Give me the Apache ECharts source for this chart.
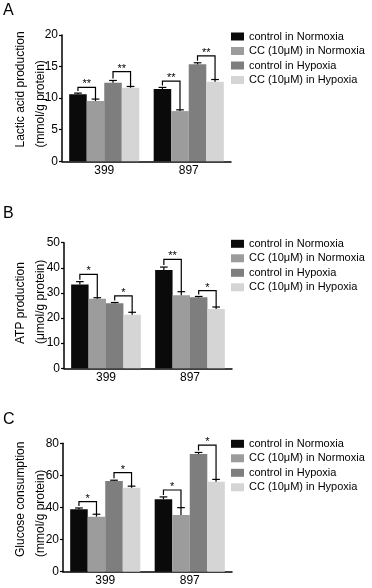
<!DOCTYPE html>
<html>
<head>
<meta charset="utf-8">
<script src="https://cdn.jsdelivr.net/npm/echarts@6/dist/echarts.min.js"></script>
<style>
html, body { margin: 0; padding: 0; background: #fff; }
#chart { width: 372px; height: 588px; }
</style>
</head>
<body>
<div id="chart"></div>
<script>
var cellLines = ['399', '897'];
var groupNames = ['control in Normoxia', 'CC (10μM) in Normoxia', 'control in Hypoxia', 'CC (10μM) in Hypoxia'];
var colors = ['#0a0a0a', '#9c9c9c', '#7e7e7e', '#d5d5d5'];

// mean and error per group, [399, 897]
var lacticMean = [[10.6, 11.45], [9.55, 7.95], [12.45, 15.35], [11.65, 12.6]];
var lacticErr = [[0.2, 0.25], [0.3, 0.2], [0.35, 0.25], [0.2, 0.35]];
var atpMean = [[33.4, 39.1], [27.7, 29.1], [25.9, 28.3], [21.3, 23.6]];
var atpErr = [[1.1, 1.2], [0.4, 1.4], [0.3, 0.3], [1.0, 0.8]];
var glucoseMean = [[38.9, 45.1], [34.3, 35.3], [56.5, 73.3], [52.3, 56.1]];
var glucoseErr = [[0.8, 1.5], [1.5, 4.6], [0.5, 1.0], [1.0, 1.4]];

// significance brackets: [cell line, left group, right group, bracket level]
var lacticSig = [[0, 0, 1, 11.7], [0, 2, 3, 14.2], [1, 0, 1, 12.7], [1, 2, 3, 16.7]];
var lacticStars = ['**', '**', '**', '**'];
var atpSig = [[0, 0, 1, 37.4], [0, 2, 3, 28.8], [1, 0, 1, 43.4], [1, 2, 3, 30.9]];
var atpStars = ['*', '*', '**', '*'];
var glucoseSig = [[0, 0, 1, 43.6], [0, 2, 3, 61.7], [1, 0, 1, 50.9], [1, 2, 3, 78.9]];
var glucoseStars = ['*', '*', '*', '*'];

var yMax = [20, 50, 80];
var yStep = [5, 10, 20];
var letters = ['A', 'B', 'C'];
var yTitles = ['Lactic acid production\n(mmol/g protein)', 'ATP production\n(μmol/g protein)', 'Glucose consumption\n(mmol/g protein)'];

var panels = [
  { mean: lacticMean, err: lacticErr, sig: lacticSig, stars: lacticStars },
  { mean: atpMean, err: atpErr, sig: atpSig, stars: atpStars },
  { mean: glucoseMean, err: glucoseErr, sig: glucoseSig, stars: glucoseStars }
];

var layout = [
  { left: 62, top: 35, height: 126.3, width: 169, legendTop: 31, letterY: 11, titleX: 31, titleY: 147.5 },
  { left: 64, top: 242.7, height: 125.6, width: 168, legendTop: 238.3, letterY: 214, titleX: 31, titleY: 344 },
  { left: 63, top: 443.3, height: 128.4, width: 169, legendTop: 438.3, letterY: 420, titleX: 31, titleY: 557 }
];

var FONT = 'Liberation Sans, Arial, sans-serif';
var GAP = 0.17;

function barX(api, cat) {
  var band = api.size([1, 0])[0];
  var groupW = band * (1 - GAP);
  var barW = groupW / 4;
  var cx = api.coord([cat, 0])[0];
  return function (idx) { return cx - groupW / 2 + (idx + 0.5) * barW; };
}

function renderError(params, api) {
  var cat = api.value(0), idx = api.value(1), v = api.value(2), e = api.value(3);
  var band = api.size([1, 0])[0];
  var barW = band * (1 - GAP) / 4;
  var x = barX(api, cat)(idx);
  var y0 = api.coord([cat, v])[1];
  var y1 = api.coord([cat, v + e])[1];
  var cap = barW * 0.22;
  var st = { stroke: '#000', lineWidth: 1.2 };
  return {
    type: 'group',
    children: [
      { type: 'line', shape: { x1: x, y1: y0, x2: x, y2: y1 }, style: st },
      { type: 'line', shape: { x1: x - cap, y1: y1, x2: x + cap, y2: y1 }, style: st }
    ]
  };
}

function makeBracketRender(stars) {
  return function (params, api) {
    var cat = api.value(0), li = api.value(1), ri = api.value(2);
    var fx = barX(api, cat);
    var xl = fx(li), xr = fx(ri);
    var yl = api.coord([cat, api.value(4)])[1] - 2;
    var yr = api.coord([cat, api.value(5)])[1];
    var yb = api.coord([cat, api.value(3)])[1];
    return {
      type: 'group',
      children: [
        { type: 'polyline', shape: { points: [[xl, yl], [xl, yb], [xr, yb], [xr, yr]] },
          style: { stroke: '#000', lineWidth: 1.2, fill: null } },
        { type: 'text', x: (xl + xr) / 2, y: yb - 3,
          style: { text: stars[params.dataIndex], fontSize: 11, fontFamily: FONT, fill: '#000',
                   align: 'center', verticalAlign: 'middle' } }
      ]
    };
  };
}

var grid = [], xAxis = [], yAxis = [], legend = [], series = [], graphic = [];

panels.forEach(function (p, k) {
  var L = layout[k];
  grid.push({ left: L.left, top: L.top, width: L.width, height: L.height });
  xAxis.push({
    type: 'category', gridIndex: k, data: cellLines,
    axisLine: { lineStyle: { color: '#000', width: 1.5 } },
    axisTick: { alignWithLabel: true, length: 3, lineStyle: { color: '#000', width: 1.2 } },
    axisLabel: { fontSize: 12, color: '#000', fontFamily: FONT, margin: 3 }
  });
  yAxis.push({
    type: 'value', gridIndex: k, min: 0, max: yMax[k], interval: yStep[k],
    axisLine: { show: true, lineStyle: { color: '#000', width: 1.5 } },
    axisTick: { show: true, length: 3, lineStyle: { color: '#000', width: 1.2 } },
    axisLabel: { fontSize: 12, color: '#000', fontFamily: FONT, margin: 4 },
    splitLine: { show: false }
  });
  legend.push({
    data: groupNames, orient: 'vertical', left: 231, top: L.legendTop, padding: 0,
    itemWidth: 13, itemHeight: 8, itemGap: 3.5, icon: 'rect', selectedMode: false,
    textStyle: { fontSize: 11, color: '#000', fontFamily: FONT }
  });

  var errData = [], sigData = [];
  groupNames.forEach(function (name, i) {
    series.push({
      type: 'bar', name: name, xAxisIndex: k, yAxisIndex: k,
      data: p.mean[i], barGap: 0, barCategoryGap: (GAP * 100) + '%',
      itemStyle: { color: colors[i] }, z: 2
    });
    p.mean[i].forEach(function (v, c) { errData.push([c, i, v, p.err[i][c]]); });
  });
  p.sig.forEach(function (s) {
    var c = s[0];
    sigData.push([c, s[1], s[2], s[3],
      p.mean[s[1]][c] + p.err[s[1]][c], p.mean[s[2]][c] + p.err[s[2]][c]]);
  });
  series.push({
    type: 'custom', name: 'err' + k, xAxisIndex: k, yAxisIndex: k,
    renderItem: renderError, data: errData, encode: { x: 0, y: 2 }, z: 5
  });
  series.push({
    type: 'custom', name: 'sig' + k, xAxisIndex: k, yAxisIndex: k,
    renderItem: makeBracketRender(p.stars), data: sigData, encode: { x: 0, y: 3 }, z: 5
  });

  graphic.push({
    type: 'text', left: 3, top: L.letterY - 8,
    style: { text: letters[k], fontSize: 16, fontFamily: FONT, fill: '#000' }
  });
  graphic.push({
    type: 'text', x: L.titleX, y: L.titleY, rotation: Math.PI / 2,
    style: { text: yTitles[k], fontSize: 12, lineHeight: 20, fontFamily: FONT, fill: '#000',
             align: 'left', verticalAlign: 'middle' }
  });
});

var chart = echarts.init(document.getElementById('chart'));
chart.setOption({
  backgroundColor: '#fff',
  animation: false,
  grid: grid, xAxis: xAxis, yAxis: yAxis, legend: legend,
  series: series, graphic: graphic
});
</script>
</body>
</html>
